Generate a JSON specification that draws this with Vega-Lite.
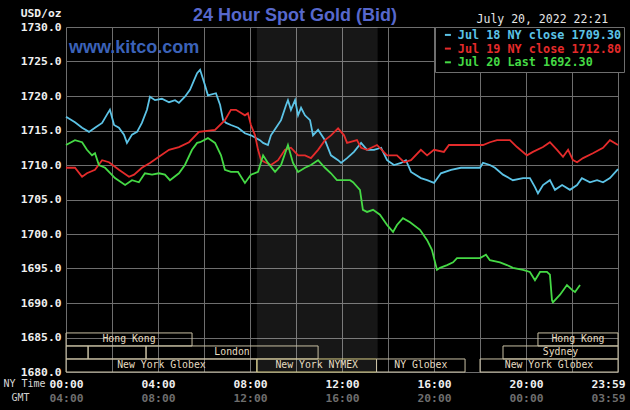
{
  "$schema": "https://vega.github.io/schema/vega-lite/v6.json",
  "width": 552,
  "height": 345,
  "autosize": {"type": "none"},
  "padding": {"left": 66, "top": 27, "right": 12, "bottom": 38},
  "background": "#000000",
  "config": {"view": {"stroke": null}},
  "title": {"text": "24 Hour Spot Gold (Bid)", "font": "Liberation Sans", "fontSize": 18, "fontWeight": "bold", "color": "#5768cc", "anchor": "middle", "dx": -47, "dy": 22, "offset": 4},
  "datasets": {
    "nymex": [{"session": "NYMEX", "start": 8.3, "end": 13.55}],
    "notes": [{"kind": "site", "text": "www.kitco.com"}, {"kind": "stamp", "text": "July 20, 2022 22:21"}],
    "sessions": [
      {"name": "New York Globex", "label": "New York Globex", "start": 0, "end": 8.3, "lane": 1},
      {"name": "New York NYMEX", "label": "New York NYMEX", "start": 8.3, "end": 13.5, "lane": 1},
      {"name": "NY Globex", "label": "NY Globex", "start": 13.5, "end": 17.35, "lane": 1},
      {"name": "New York Globex", "label": "New York Globex", "start": 18.0, "end": 24, "lane": 1},
      {"name": "Sydney", "label": "", "start": 0, "end": 0.96, "lane": 2},
      {"name": "Tokyo", "label": "", "start": 0.96, "end": 3.48, "lane": 2},
      {"name": "London", "label": "London", "start": 3.48, "end": 10.96, "lane": 2},
      {"name": "Sydney", "label": "Sydney", "start": 19.0, "end": 24, "lane": 2},
      {"name": "Hong Kong", "label": "Hong Kong", "start": 0, "end": 5.48, "lane": 3},
      {"name": "Hong Kong", "label": "Hong Kong", "start": 20.52, "end": 24, "lane": 3}
    ],
    "gold": [
      {"series": "Jul 18", "hour": 0, "price": 1717.0},
      {"series": "Jul 18", "hour": 0.39, "price": 1716.2},
      {"series": "Jul 18", "hour": 0.7, "price": 1715.4},
      {"series": "Jul 18", "hour": 1.0, "price": 1714.8},
      {"series": "Jul 18", "hour": 1.26, "price": 1715.4},
      {"series": "Jul 18", "hour": 1.57, "price": 1716.1},
      {"series": "Jul 18", "hour": 1.78, "price": 1717.3},
      {"series": "Jul 18", "hour": 1.91, "price": 1718.0},
      {"series": "Jul 18", "hour": 2.09, "price": 1715.8},
      {"series": "Jul 18", "hour": 2.3, "price": 1715.4},
      {"series": "Jul 18", "hour": 2.52, "price": 1714.4},
      {"series": "Jul 18", "hour": 2.65, "price": 1713.2},
      {"series": "Jul 18", "hour": 2.87, "price": 1714.4},
      {"series": "Jul 18", "hour": 3.09, "price": 1714.8},
      {"series": "Jul 18", "hour": 3.3, "price": 1716.1},
      {"series": "Jul 18", "hour": 3.52, "price": 1718.0},
      {"series": "Jul 18", "hour": 3.65, "price": 1719.9},
      {"series": "Jul 18", "hour": 3.87, "price": 1719.4},
      {"series": "Jul 18", "hour": 4.17, "price": 1719.6},
      {"series": "Jul 18", "hour": 4.48, "price": 1719.1},
      {"series": "Jul 18", "hour": 4.74, "price": 1719.4},
      {"series": "Jul 18", "hour": 4.91, "price": 1719.0},
      {"series": "Jul 18", "hour": 5.17, "price": 1719.9},
      {"series": "Jul 18", "hour": 5.39, "price": 1720.9},
      {"series": "Jul 18", "hour": 5.57, "price": 1722.3},
      {"series": "Jul 18", "hour": 5.7, "price": 1723.3},
      {"series": "Jul 18", "hour": 5.83, "price": 1723.8},
      {"series": "Jul 18", "hour": 6.04, "price": 1721.6},
      {"series": "Jul 18", "hour": 6.17, "price": 1720.1},
      {"series": "Jul 18", "hour": 6.52, "price": 1720.4},
      {"series": "Jul 18", "hour": 6.7, "price": 1718.7},
      {"series": "Jul 18", "hour": 6.83, "price": 1716.5},
      {"series": "Jul 18", "hour": 6.96, "price": 1716.1},
      {"series": "Jul 18", "hour": 7.17, "price": 1715.8},
      {"series": "Jul 18", "hour": 7.48, "price": 1715.4},
      {"series": "Jul 18", "hour": 7.78, "price": 1714.6},
      {"series": "Jul 18", "hour": 8.04, "price": 1714.3},
      {"series": "Jul 18", "hour": 8.43, "price": 1713.6},
      {"series": "Jul 18", "hour": 8.57, "price": 1713.2},
      {"series": "Jul 18", "hour": 8.78, "price": 1712.9},
      {"series": "Jul 18", "hour": 8.91, "price": 1714.3},
      {"series": "Jul 18", "hour": 9.13, "price": 1715.4},
      {"series": "Jul 18", "hour": 9.35, "price": 1716.5},
      {"series": "Jul 18", "hour": 9.57, "price": 1718.7},
      {"series": "Jul 18", "hour": 9.65, "price": 1719.4},
      {"series": "Jul 18", "hour": 9.78, "price": 1718.0},
      {"series": "Jul 18", "hour": 9.96, "price": 1719.4},
      {"series": "Jul 18", "hour": 10.09, "price": 1717.2},
      {"series": "Jul 18", "hour": 10.22, "price": 1718.3},
      {"series": "Jul 18", "hour": 10.39, "price": 1717.2},
      {"series": "Jul 18", "hour": 10.61, "price": 1716.5},
      {"series": "Jul 18", "hour": 10.74, "price": 1714.3},
      {"series": "Jul 18", "hour": 10.96, "price": 1715.1},
      {"series": "Jul 18", "hour": 11.26, "price": 1713.6},
      {"series": "Jul 18", "hour": 11.52, "price": 1711.4},
      {"series": "Jul 18", "hour": 11.83, "price": 1710.7},
      {"series": "Jul 18", "hour": 11.96, "price": 1710.3},
      {"series": "Jul 18", "hour": 12.22, "price": 1711.0},
      {"series": "Jul 18", "hour": 12.52, "price": 1711.9},
      {"series": "Jul 18", "hour": 12.83, "price": 1713.2},
      {"series": "Jul 18", "hour": 13.09, "price": 1712.2},
      {"series": "Jul 18", "hour": 13.39, "price": 1712.2},
      {"series": "Jul 18", "hour": 13.7, "price": 1712.5},
      {"series": "Jul 18", "hour": 13.96, "price": 1710.7},
      {"series": "Jul 18", "hour": 14.26, "price": 1710.0},
      {"series": "Jul 18", "hour": 14.57, "price": 1710.3},
      {"series": "Jul 18", "hour": 14.78, "price": 1710.7},
      {"series": "Jul 18", "hour": 15.0, "price": 1709.0},
      {"series": "Jul 18", "hour": 15.43, "price": 1708.1},
      {"series": "Jul 18", "hour": 15.7, "price": 1707.8},
      {"series": "Jul 18", "hour": 16.0, "price": 1707.4},
      {"series": "Jul 18", "hour": 16.3, "price": 1708.8},
      {"series": "Jul 18", "hour": 16.74, "price": 1709.3},
      {"series": "Jul 18", "hour": 17.17, "price": 1709.6},
      {"series": "Jul 18", "hour": 18.0, "price": 1709.6},
      {"series": "Jul 18", "hour": 18.13, "price": 1710.3},
      {"series": "Jul 18", "hour": 18.43, "price": 1710.0},
      {"series": "Jul 18", "hour": 18.65, "price": 1709.6},
      {"series": "Jul 18", "hour": 19.0, "price": 1708.6},
      {"series": "Jul 18", "hour": 19.43, "price": 1707.8},
      {"series": "Jul 18", "hour": 19.87, "price": 1708.1},
      {"series": "Jul 18", "hour": 20.17, "price": 1708.1},
      {"series": "Jul 18", "hour": 20.39, "price": 1706.8},
      {"series": "Jul 18", "hour": 20.52, "price": 1705.9},
      {"series": "Jul 18", "hour": 20.74, "price": 1707.1},
      {"series": "Jul 18", "hour": 21.04, "price": 1707.8},
      {"series": "Jul 18", "hour": 21.26, "price": 1706.4},
      {"series": "Jul 18", "hour": 21.57, "price": 1707.1},
      {"series": "Jul 18", "hour": 21.91, "price": 1706.4},
      {"series": "Jul 18", "hour": 22.22, "price": 1707.1},
      {"series": "Jul 18", "hour": 22.43, "price": 1708.1},
      {"series": "Jul 18", "hour": 22.78, "price": 1707.5},
      {"series": "Jul 18", "hour": 23.09, "price": 1707.8},
      {"series": "Jul 18", "hour": 23.35, "price": 1707.5},
      {"series": "Jul 18", "hour": 23.65, "price": 1708.1},
      {"series": "Jul 18", "hour": 24.0, "price": 1709.4},
      {"series": "Jul 19", "hour": 0, "price": 1709.6},
      {"series": "Jul 19", "hour": 0.39, "price": 1709.6},
      {"series": "Jul 19", "hour": 0.7, "price": 1708.3},
      {"series": "Jul 19", "hour": 0.91, "price": 1708.8},
      {"series": "Jul 19", "hour": 1.26, "price": 1709.3},
      {"series": "Jul 19", "hour": 1.57, "price": 1710.7},
      {"series": "Jul 19", "hour": 1.87, "price": 1710.4},
      {"series": "Jul 19", "hour": 2.3, "price": 1709.3},
      {"series": "Jul 19", "hour": 2.74, "price": 1708.3},
      {"series": "Jul 19", "hour": 2.96, "price": 1708.6},
      {"series": "Jul 19", "hour": 3.3, "price": 1709.6},
      {"series": "Jul 19", "hour": 3.65, "price": 1710.3},
      {"series": "Jul 19", "hour": 4.04, "price": 1711.2},
      {"series": "Jul 19", "hour": 4.48, "price": 1712.2},
      {"series": "Jul 19", "hour": 4.91, "price": 1712.6},
      {"series": "Jul 19", "hour": 5.35, "price": 1713.3},
      {"series": "Jul 19", "hour": 5.78, "price": 1714.8},
      {"series": "Jul 19", "hour": 6.48, "price": 1715.1},
      {"series": "Jul 19", "hour": 6.91, "price": 1716.5},
      {"series": "Jul 19", "hour": 7.17, "price": 1718.0},
      {"series": "Jul 19", "hour": 7.39, "price": 1718.0},
      {"series": "Jul 19", "hour": 7.78, "price": 1717.2},
      {"series": "Jul 19", "hour": 7.91, "price": 1717.5},
      {"series": "Jul 19", "hour": 8.04, "price": 1715.8},
      {"series": "Jul 19", "hour": 8.22, "price": 1714.3},
      {"series": "Jul 19", "hour": 8.35, "price": 1712.2},
      {"series": "Jul 19", "hour": 8.48, "price": 1710.7},
      {"series": "Jul 19", "hour": 8.65, "price": 1710.4},
      {"series": "Jul 19", "hour": 8.91, "price": 1710.0},
      {"series": "Jul 19", "hour": 9.22, "price": 1710.7},
      {"series": "Jul 19", "hour": 9.52, "price": 1712.2},
      {"series": "Jul 19", "hour": 9.78, "price": 1712.5},
      {"series": "Jul 19", "hour": 10.09, "price": 1711.4},
      {"series": "Jul 19", "hour": 10.39, "price": 1711.4},
      {"series": "Jul 19", "hour": 10.65, "price": 1711.0},
      {"series": "Jul 19", "hour": 10.96, "price": 1712.2},
      {"series": "Jul 19", "hour": 11.26, "price": 1713.6},
      {"series": "Jul 19", "hour": 11.52, "price": 1714.3},
      {"series": "Jul 19", "hour": 11.83, "price": 1715.3},
      {"series": "Jul 19", "hour": 12.09, "price": 1714.3},
      {"series": "Jul 19", "hour": 12.22, "price": 1713.2},
      {"series": "Jul 19", "hour": 12.65, "price": 1713.6},
      {"series": "Jul 19", "hour": 12.83, "price": 1712.5},
      {"series": "Jul 19", "hour": 13.09, "price": 1712.2},
      {"series": "Jul 19", "hour": 13.52, "price": 1712.9},
      {"series": "Jul 19", "hour": 13.96, "price": 1711.4},
      {"series": "Jul 19", "hour": 14.39, "price": 1711.4},
      {"series": "Jul 19", "hour": 14.7, "price": 1710.4},
      {"series": "Jul 19", "hour": 15.0, "price": 1710.7},
      {"series": "Jul 19", "hour": 15.43, "price": 1712.2},
      {"series": "Jul 19", "hour": 15.7, "price": 1711.4},
      {"series": "Jul 19", "hour": 16.0, "price": 1712.2},
      {"series": "Jul 19", "hour": 16.43, "price": 1711.9},
      {"series": "Jul 19", "hour": 16.65, "price": 1712.9},
      {"series": "Jul 19", "hour": 18.13, "price": 1712.9},
      {"series": "Jul 19", "hour": 18.43, "price": 1713.3},
      {"series": "Jul 19", "hour": 18.74, "price": 1713.6},
      {"series": "Jul 19", "hour": 19.3, "price": 1713.6},
      {"series": "Jul 19", "hour": 19.61, "price": 1712.6},
      {"series": "Jul 19", "hour": 20.04, "price": 1711.4},
      {"series": "Jul 19", "hour": 20.3, "price": 1711.9},
      {"series": "Jul 19", "hour": 20.74, "price": 1712.6},
      {"series": "Jul 19", "hour": 21.04, "price": 1713.3},
      {"series": "Jul 19", "hour": 21.35, "price": 1712.2},
      {"series": "Jul 19", "hour": 21.61, "price": 1711.2},
      {"series": "Jul 19", "hour": 21.83, "price": 1712.2},
      {"series": "Jul 19", "hour": 22.04, "price": 1710.7},
      {"series": "Jul 19", "hour": 22.22, "price": 1710.4},
      {"series": "Jul 19", "hour": 22.48, "price": 1711.0},
      {"series": "Jul 19", "hour": 22.91, "price": 1711.7},
      {"series": "Jul 19", "hour": 23.35, "price": 1712.5},
      {"series": "Jul 19", "hour": 23.65, "price": 1713.6},
      {"series": "Jul 19", "hour": 24.0, "price": 1712.9},
      {"series": "Jul 20", "hour": 0, "price": 1712.9},
      {"series": "Jul 20", "hour": 0.39, "price": 1713.6},
      {"series": "Jul 20", "hour": 0.7, "price": 1713.3},
      {"series": "Jul 20", "hour": 0.91, "price": 1712.2},
      {"series": "Jul 20", "hour": 1.13, "price": 1711.4},
      {"series": "Jul 20", "hour": 1.26, "price": 1711.7},
      {"series": "Jul 20", "hour": 1.43, "price": 1710.0},
      {"series": "Jul 20", "hour": 1.7, "price": 1709.6},
      {"series": "Jul 20", "hour": 2.13, "price": 1708.1},
      {"series": "Jul 20", "hour": 2.57, "price": 1707.1},
      {"series": "Jul 20", "hour": 2.87, "price": 1707.8},
      {"series": "Jul 20", "hour": 3.17, "price": 1707.5},
      {"series": "Jul 20", "hour": 3.43, "price": 1708.8},
      {"series": "Jul 20", "hour": 3.74, "price": 1708.6},
      {"series": "Jul 20", "hour": 4.04, "price": 1708.8},
      {"series": "Jul 20", "hour": 4.3, "price": 1708.6},
      {"series": "Jul 20", "hour": 4.52, "price": 1707.8},
      {"series": "Jul 20", "hour": 4.91, "price": 1708.8},
      {"series": "Jul 20", "hour": 5.17, "price": 1710.0},
      {"series": "Jul 20", "hour": 5.48, "price": 1712.2},
      {"series": "Jul 20", "hour": 5.7, "price": 1713.2},
      {"series": "Jul 20", "hour": 5.83, "price": 1713.3},
      {"series": "Jul 20", "hour": 6.17, "price": 1713.9},
      {"series": "Jul 20", "hour": 6.48, "price": 1713.2},
      {"series": "Jul 20", "hour": 6.74, "price": 1711.4},
      {"series": "Jul 20", "hour": 6.91, "price": 1709.3},
      {"series": "Jul 20", "hour": 7.17, "price": 1709.0},
      {"series": "Jul 20", "hour": 7.48, "price": 1709.0},
      {"series": "Jul 20", "hour": 7.78, "price": 1707.4},
      {"series": "Jul 20", "hour": 8.04, "price": 1708.6},
      {"series": "Jul 20", "hour": 8.35, "price": 1709.0},
      {"series": "Jul 20", "hour": 8.57, "price": 1711.4},
      {"series": "Jul 20", "hour": 8.78, "price": 1710.3},
      {"series": "Jul 20", "hour": 9.09, "price": 1709.0},
      {"series": "Jul 20", "hour": 9.35, "price": 1710.0},
      {"series": "Jul 20", "hour": 9.65, "price": 1712.9},
      {"series": "Jul 20", "hour": 9.87, "price": 1710.3},
      {"series": "Jul 20", "hour": 10.09, "price": 1709.0},
      {"series": "Jul 20", "hour": 10.39, "price": 1709.6},
      {"series": "Jul 20", "hour": 10.65, "price": 1710.0},
      {"series": "Jul 20", "hour": 10.96, "price": 1710.7},
      {"series": "Jul 20", "hour": 11.26, "price": 1709.6},
      {"series": "Jul 20", "hour": 11.52, "price": 1708.8},
      {"series": "Jul 20", "hour": 11.78, "price": 1707.8},
      {"series": "Jul 20", "hour": 12.35, "price": 1707.8},
      {"series": "Jul 20", "hour": 12.48, "price": 1707.5},
      {"series": "Jul 20", "hour": 12.78, "price": 1706.4},
      {"series": "Jul 20", "hour": 12.91, "price": 1703.5},
      {"series": "Jul 20", "hour": 13.09, "price": 1703.2},
      {"series": "Jul 20", "hour": 13.35, "price": 1703.5},
      {"series": "Jul 20", "hour": 13.65, "price": 1702.8},
      {"series": "Jul 20", "hour": 13.96, "price": 1701.3},
      {"series": "Jul 20", "hour": 14.22, "price": 1700.3},
      {"series": "Jul 20", "hour": 14.39, "price": 1701.3},
      {"series": "Jul 20", "hour": 14.65, "price": 1702.3},
      {"series": "Jul 20", "hour": 14.96, "price": 1701.7},
      {"series": "Jul 20", "hour": 15.39, "price": 1700.6},
      {"series": "Jul 20", "hour": 15.7, "price": 1699.1},
      {"series": "Jul 20", "hour": 15.91, "price": 1697.7},
      {"series": "Jul 20", "hour": 16.13, "price": 1694.8},
      {"series": "Jul 20", "hour": 16.26, "price": 1695.1},
      {"series": "Jul 20", "hour": 16.57, "price": 1695.5},
      {"series": "Jul 20", "hour": 16.83, "price": 1695.9},
      {"series": "Jul 20", "hour": 17.0, "price": 1696.5},
      {"series": "Jul 20", "hour": 18.0, "price": 1696.5},
      {"series": "Jul 20", "hour": 18.26, "price": 1697.0},
      {"series": "Jul 20", "hour": 18.43, "price": 1696.2},
      {"series": "Jul 20", "hour": 18.87, "price": 1695.9},
      {"series": "Jul 20", "hour": 19.17, "price": 1695.5},
      {"series": "Jul 20", "hour": 19.43, "price": 1695.1},
      {"series": "Jul 20", "hour": 19.87, "price": 1694.8},
      {"series": "Jul 20", "hour": 20.17, "price": 1694.5},
      {"series": "Jul 20", "hour": 20.39, "price": 1693.3},
      {"series": "Jul 20", "hour": 20.61, "price": 1694.5},
      {"series": "Jul 20", "hour": 20.91, "price": 1694.5},
      {"series": "Jul 20", "hour": 21.04, "price": 1694.1},
      {"series": "Jul 20", "hour": 21.13, "price": 1690.4},
      {"series": "Jul 20", "hour": 21.17, "price": 1690.1},
      {"series": "Jul 20", "hour": 21.48, "price": 1691.2},
      {"series": "Jul 20", "hour": 21.78, "price": 1692.6},
      {"series": "Jul 20", "hour": 22.0, "price": 1691.9},
      {"series": "Jul 20", "hour": 22.13, "price": 1691.6},
      {"series": "Jul 20", "hour": 22.35, "price": 1692.6}
    ]
  },
  "resolve": {"scale": {"y": "independent"}, "axis": {"x": "independent", "y": "independent"}},
  "layer": [
    {
      "data": {"name": "nymex"},
      "mark": {"type": "rect", "fill": "#ffffff", "fillOpacity": 0.09},
      "encoding": {
        "x": {"field": "start", "type": "quantitative", "scale": {"domain": [0, 24], "nice": false, "zero": false},
          "axis": {"orient": "bottom", "offset": 14, "values": [0, 4, 8, 12, 16, 20, 24], "grid": false, "ticks": false, "domain": false,
            "labelExpr": "datum.value == 24 ? '03:59' : ((datum.value + 4) % 24 < 10 ? '0' : '') + ((datum.value + 4) % 24) + ':00'",
            "labelFont": "DejaVu Sans Mono", "labelFontSize": 11.3, "labelFontWeight": "bold", "labelColor": "#6e6e6e", "labelPadding": 6,
            "labelFlush": false, "labelOverlap": false,
            "labelOffset": {"condition": {"test": "datum.value == 24", "value": -10}, "value": 0},
            "title": "GMT", "titleX": -55, "titleY": 11, "titleAlign": "left", "titleBaseline": "middle", "titleAnchor": null,
            "titleFont": "DejaVu Sans Mono", "titleFontSize": 10, "titleFontWeight": "normal", "titleColor": "#d0d0d0"}},
        "x2": {"field": "end"}
      }
    },
    {
      "data": {"name": "sessions"},
      "transform": [{"calculate": "datum.lane - 1", "as": "base"}],
      "mark": {"type": "rect", "filled": false, "strokeWidth": 1},
      "encoding": {
        "x": {"field": "start", "type": "quantitative", "scale": {"domain": [0, 24], "nice": false, "zero": false}, "axis": null},
        "x2": {"field": "end"},
        "y": {"field": "base", "type": "quantitative", "scale": {"domain": [0, 26.5], "nice": false, "zero": false}, "axis": null},
        "y2": {"field": "lane"},
        "stroke": {"condition": {"test": "datum.name === 'New York NYMEX'", "value": "#d9cf86"}, "value": "#c9c0a4"}
      }
    },
    {
      "data": {"name": "sessions"},
      "transform": [{"calculate": "(datum.start + datum.end) / 2", "as": "mid"}, {"calculate": "datum.lane - 0.5", "as": "lmid"}],
      "mark": {"type": "text", "font": "DejaVu Sans Mono", "fontSize": 9.8, "color": "#e6dcc0", "align": "center", "baseline": "middle"},
      "encoding": {
        "x": {"field": "mid", "type": "quantitative", "scale": {"domain": [0, 24], "nice": false, "zero": false}, "axis": null},
        "y": {"field": "lmid", "type": "quantitative", "scale": {"domain": [0, 26.5], "nice": false, "zero": false}, "axis": null},
        "text": {"field": "label"}
      }
    },
    {
      "data": {"name": "notes"},
      "transform": [{"filter": "datum.kind == 'site'"}],
      "mark": {"type": "text", "font": "Liberation Sans", "fontSize": 18, "fontWeight": "bold", "color": "#3b62b8", "align": "center", "baseline": "middle"},
      "encoding": {
        "x": {"datum": 2.96, "type": "quantitative", "scale": {"domain": [0, 24], "nice": false, "zero": false}, "axis": null},
        "y": {"datum": 1726.96, "type": "quantitative", "scale": {"domain": [1680, 1730], "nice": false, "zero": false}, "axis": null},
        "text": {"field": "text"}
      }
    },
    {
      "data": {"name": "notes"},
      "transform": [{"filter": "datum.kind == 'stamp'"}],
      "mark": {"type": "text", "font": "DejaVu Sans Mono", "fontSize": 11.5, "color": "#e6e6e6", "align": "right", "baseline": "middle"},
      "encoding": {
        "x": {"datum": 23.57, "type": "quantitative", "scale": {"domain": [0, 24], "nice": false, "zero": false}, "axis": null},
        "y": {"datum": 1731.0, "type": "quantitative", "scale": {"domain": [1680, 1730], "nice": false, "zero": false}, "axis": null},
        "text": {"field": "text"}
      }
    },
    {
      "data": {"name": "gold"},
      "mark": {"type": "line", "strokeWidth": 1.8, "interpolate": "linear"},
      "encoding": {
        "x": {"field": "hour", "type": "quantitative", "scale": {"domain": [0, 24], "nice": false, "zero": false},
          "axis": {"orient": "bottom", "values": [0, 2, 4, 6, 8, 10, 12, 14, 16, 18, 20, 22, 24], "grid": true, "gridColor": "#6e6e6e", "gridWidth": 1, "ticks": false, "domain": false,
            "labelExpr": "datum.value == 24 ? '23:59' : (datum.value % 4 == 0 ? (datum.value < 10 ? '0' : '') + datum.value + ':00' : '')",
            "labelFont": "DejaVu Sans Mono", "labelFontSize": 11.3, "labelFontWeight": "bold", "labelColor": "#f0f0f0", "labelPadding": 6,
            "labelFlush": false, "labelOverlap": false,
            "labelOffset": {"condition": {"test": "datum.value == 24", "value": -10}, "value": 0},
            "title": "NY Time", "titleX": -63, "titleY": 11, "titleAlign": "left", "titleBaseline": "middle", "titleAnchor": null,
            "titleFont": "DejaVu Sans Mono", "titleFontSize": 10, "titleFontWeight": "normal", "titleColor": "#d8d8d8"}},
        "y": {"field": "price", "type": "quantitative", "scale": {"domain": [1680, 1730], "nice": false, "zero": false},
          "axis": {"values": [1680, 1685, 1690, 1695, 1700, 1705, 1710, 1715, 1720, 1725, 1730], "format": ".1f", "grid": true, "gridColor": "#6e6e6e", "gridWidth": 1, "ticks": false, "domain": false,
            "labelFont": "DejaVu Sans Mono", "labelFontSize": 11.3, "labelFontWeight": "bold", "labelColor": "#f0f0f0", "labelPadding": 5,
            "title": "USD/oz", "titleAngle": 0, "titleX": -5, "titleY": -14, "titleAlign": "right", "titleBaseline": "middle", "titleAnchor": null,
            "titleFont": "DejaVu Sans Mono", "titleFontSize": 11.3, "titleFontWeight": "bold", "titleColor": "#f0f0f0"}},
        "color": {"field": "series", "type": "nominal",
          "scale": {"domain": ["Jul 18", "Jul 19", "Jul 20"], "range": ["#5cc3e6", "#e52b2b", "#45d945"]},
          "legend": {"orient": "none", "legendX": 369, "legendY": 0, "title": null, "fillColor": "#000000", "strokeColor": "#6e6e6e", "padding": 2,
            "symbolOffset": 5, "symbolType": "stroke", "symbolSize": 36, "symbolStrokeWidth": 2, "labelOffset": 4, "rowPadding": 0.7,
            "labelFont": "DejaVu Sans Mono", "labelFontSize": 11.8, "labelFontWeight": "bold", "labelLimit": 300,
            "labelExpr": "datum.label == 'Jul 18' ? 'Jul 18 NY close 1709.30' : (datum.label == 'Jul 19' ? 'Jul 19 NY close 1712.80' : 'Jul 20 Last 1692.30')",
            "encode": {"labels": {"update": {"fill": {"scale": "color", "field": "value"}}}}}}
      }
    }
  ]
}
